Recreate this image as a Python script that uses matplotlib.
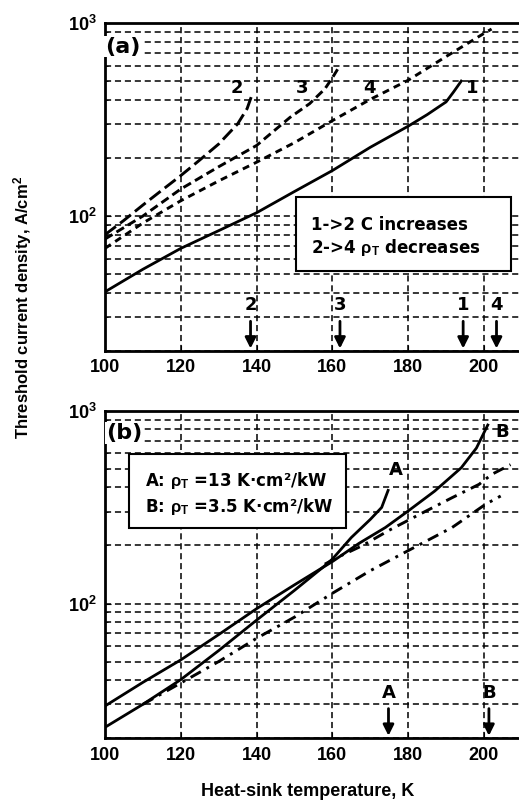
import numpy as np
import matplotlib
matplotlib.use('Agg')
import matplotlib.pyplot as plt
from matplotlib.patches import Rectangle

#*** Fonts, everything bold like the original figure
plt.rcParams['font.family'] = ['Liberation Sans', 'DejaVu Sans']
plt.rcParams['font.weight'] = 'bold'
plt.rcParams['mathtext.fontset'] = 'custom'
plt.rcParams['mathtext.rm'] = 'Liberation Sans:bold'
plt.rcParams['mathtext.it'] = 'Liberation Sans:bold'
plt.rcParams['mathtext.bf'] = 'Liberation Sans:bold'

# the heavier, wider face used for the in-plot annotations
heavy = ['DejaVu Sans']

#*** Panel (a) data
T1 = [100, 110, 120, 130, 140, 150, 160, 170, 180, 185, 190, 192, 194]
J1 = [40.5, 53, 68, 84, 104, 134, 172, 227, 292, 335, 390, 440, 500]

T2 = [100, 105, 110, 115, 120, 125, 130, 135, 137.5, 138.7]
J2 = [80, 95, 114, 136, 162, 195, 236, 300, 360, 420]

T3 = [100, 110, 120, 130, 140, 148.8, 154, 158, 160, 162]
J3 = [76, 100, 138, 180, 232, 324, 382, 455, 520, 603]

T4 = [100, 110, 120, 130, 140, 150, 160, 170, 180, 190, 200, 202]
J4 = [68, 92, 120, 152, 190, 240, 312, 402, 505, 670, 883, 930]

curve_labels_a = ['2', '3', '4', '1']
curve_label_T_a = [134.7, 151.9, 169.9, 197.0]
arrow_T_a = [138.4, 162.0, 194.5, 203.3]
arrow_lab_a = ['2', '3', '1', '4']

#*** Panel (b) data
TA = [100, 110, 120, 130, 140, 150, 158, 160, 165, 170, 173, 174.7]
JA = [22.8, 30, 40.3, 57, 82, 117, 157, 170, 220, 273, 315, 386]

TB = [100, 110, 120, 130, 140, 150, 160, 167, 174, 180, 187, 194, 198, 201]
JB = [29.4, 39, 51, 69, 94, 125, 165, 205, 248, 302, 383, 506, 640, 843]

TC = [158, 162, 168, 175, 183, 191.6, 198.7, 202, 207]
JC = [160, 176, 200, 240, 290, 354, 415, 467, 525]

TD = [110, 120, 130, 140, 150, 160, 170, 178.4, 191.6, 200.4, 204.4]
JD = [30, 38.7, 50, 66, 85, 113, 148, 181, 248, 327, 361]

arrow_T_b = [174.8, 201.3]
arrow_lab_b = ['A', 'B']

xticks = [100, 120, 140, 160, 180, 200]

#*** Figure
fig = plt.figure(figsize=(5.19, 8.08), dpi=100)
ax_a = fig.add_axes([0.2023, 0.5656, 0.81, 0.406])
ax_b = fig.add_axes([0.2023, 0.0863, 0.81, 0.4054])

xmax = 100 + 0.81 * 519 / 3.79


def setup(ax):
    ax.set_yscale('log')
    ax.set_xlim(100, xmax)
    ax.set_ylim(20, 1000)
    ax.set_xticks(xticks)
    ax.grid(True, which='major', axis='x', color='k', linestyle=(0, (4, 2.5)), linewidth=1.1)
    ax.grid(True, which='both', axis='y', color='k', linestyle=(0, (4, 2.5)), linewidth=1.1)
    ax.tick_params(which='both', direction='in', labelsize=13, top=False, right=False)
    ax.tick_params(axis='y', which='major', pad=6, length=4)
    ax.tick_params(axis='y', which='minor', length=2)
    ax.tick_params(axis='x', pad=6, length=4)
    for s in ax.spines.values():
        s.set_linewidth(2)
    ax.spines['right'].set_visible(False)
    for lab in ax.get_xticklabels() + ax.get_yticklabels():
        lab.set_fontweight('bold')


def arrows(ax, Ts, labs):
    for t, lab in zip(Ts, labs):
        ax.annotate('', xy=(t, 20.6), xytext=(t, 28.5),
                    arrowprops=dict(arrowstyle='-|>', lw=2, color='k', mutation_scale=16,
                                    shrinkA=0, shrinkB=0), zorder=5)
        ax.text(t, 31, lab, ha='center', va='bottom', fontsize=13, fontweight='bold',
                family=heavy, zorder=5)


#*** Panel (a)
setup(ax_a)
ax_a.plot(T1, J1, color='k', lw=2, zorder=4)
ax_a.plot(T2, J2, color='k', lw=2.1, dashes=(4.7, 1.8), zorder=4)
ax_a.plot(T3, J3, color='k', lw=2.1, dashes=(3.0, 1.6), zorder=4)
ax_a.plot(T4, J4, color='k', lw=2.1, dashes=(2.4, 1.8), zorder=4)
for lab, t in zip(curve_labels_a, curve_label_T_a):
    ax_a.text(t, 458, lab, ha='center', va='center', fontsize=13, fontweight='bold',
              family=heavy, zorder=5)
arrows(ax_a, arrow_T_a, arrow_lab_a)
ax_a.add_patch(Rectangle((150.4, 52), 207 - 150.4, 125 - 52, facecolor='white',
                         edgecolor='k', lw=1.5, zorder=6))
ax_a.text(154.3, 89.8, '1->2 C increases', fontsize=12, fontweight='bold', family=heavy,
          va='center', zorder=7)
ax_a.text(154.3, 68.4, r'2->4 $\rho_T$ decreases', fontsize=12, fontweight='bold', family=heavy,
          va='center', zorder=7)
ax_a.text(104.7, 753, '(a)', fontsize=16, fontweight='bold', family=heavy, ha='center',
          va='center', zorder=7, bbox=dict(facecolor='white', edgecolor='none', pad=0.5))

#*** Panel (b)
setup(ax_b)
ax_b.plot(TA, JA, color='k', lw=2, zorder=4)
ax_b.plot(TB, JB, color='k', lw=2, zorder=4)
ax_b.plot(TC, JC, color='k', lw=2.1, dashes=(4, 2.2, 1, 2.2), zorder=4)
ax_b.plot(TD, JD, color='k', lw=2.1, dashes=(4, 2.2, 1, 2.2), zorder=4)
ax_b.text(176.7, 495, 'A', ha='center', va='center', fontsize=13, fontweight='bold',
          family=heavy, zorder=5)
ax_b.text(204.7, 780, 'B', ha='center', va='center', fontsize=13, fontweight='bold',
          family=heavy, zorder=5)
arrows(ax_b, arrow_T_b, arrow_lab_b)
ax_b.add_patch(Rectangle((106.3, 245), 163.7 - 106.3, 599 - 245, facecolor='white',
                         edgecolor='k', lw=1.5, zorder=6))
ax_b.text(110.6, 436, r'A: $\rho_T$ =13 K·cm²/kW', fontsize=12, fontweight='bold',
          family=heavy, va='center', zorder=7)
ax_b.text(110.6, 318, r'B: $\rho_T$ =3.5 K·cm²/kW', fontsize=12, fontweight='bold',
          family=heavy, va='center', zorder=7)
ax_b.text(105, 767, '(b)', fontsize=16, fontweight='bold', family=heavy, ha='center',
          va='center', zorder=7, bbox=dict(facecolor='white', edgecolor='none', pad=0.5))

#*** Shared labels
fig.text(0.044, 1 - 307 / 808, 'Threshold current density, A/cm$^2$', rotation=90,
         ha='center', va='center', fontsize=12, fontweight='bold')
fig.text(307.5 / 519, 1 - 792 / 808, 'Heat-sink temperature, K', ha='center', va='center',
         fontsize=13, fontweight='bold')

fig.savefig('out.png', dpi=100)
